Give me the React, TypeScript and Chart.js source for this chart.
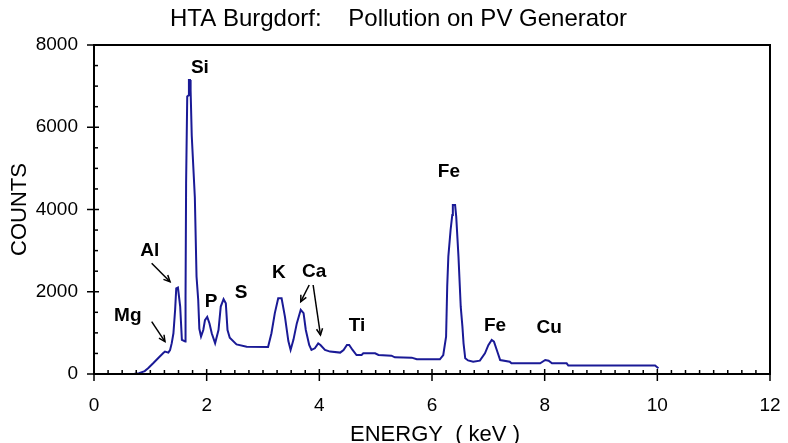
import React, { useEffect, useRef } from "react";
import { Chart, registerables } from "chart.js";

Chart.register(...registerables);

// ---- Data ----
const energyKeV = [
  0.7, 0.8, 0.9, 0.96, 1.05, 1.15, 1.23, 1.26, 1.32, 1.35, 1.38, 1.41, 1.44, 1.46, 1.49, 1.53, 1.56,
  1.62, 1.625, 1.635, 1.655, 1.68, 1.685, 1.705, 1.715, 1.735, 1.79, 1.82, 1.85, 1.87, 1.9, 1.94, 1.97,
  2.01, 2.05, 2.09, 2.15, 2.21, 2.25, 2.3, 2.34, 2.37, 2.41, 2.53, 2.71, 3.09, 3.15, 3.21, 3.27, 3.33,
  3.39, 3.45, 3.49, 3.54, 3.6, 3.67, 3.72, 3.76, 3.82, 3.86, 3.92, 3.98, 4.02, 4.1, 4.19, 4.37, 4.43,
  4.49, 4.53, 4.59, 4.66, 4.75, 4.78, 4.99, 5.05, 5.28, 5.34, 5.64, 5.73, 6.14, 6.2, 6.25, 6.27, 6.29,
  6.33, 6.36, 6.37, 6.41, 6.43, 6.47, 6.51, 6.54, 6.56, 6.59, 6.64, 6.73, 6.85, 6.94, 7.0, 7.06, 7.1,
  7.15, 7.21, 7.38, 7.41, 7.92, 8.01, 8.07, 8.13, 8.39, 8.42, 9.96, 10.02,
];
const counts = [
  0, 20, 70, 140, 260, 400, 510, 545, 520, 580, 750, 990, 1560, 2080, 2100, 1640, 830,
  790, 1900, 4640, 6750, 6780, 7150, 7150, 6900, 5800, 4300, 2370, 1800, 1100, 910, 1070, 1310,
  1390, 1230, 990, 750, 1070, 1640, 1820, 1720, 1070, 880, 720, 665, 655, 990, 1480, 1840, 1840,
  1390, 800, 585, 830, 1230, 1560, 1480, 1070, 705, 585, 625, 745, 705, 585, 545, 520, 585,
  705, 705, 585, 462, 462, 503, 503, 462, 446, 405, 397, 357, 357, 462, 908, 2124, 2853,
  3502, 3867, 4110, 4110, 3826, 2853, 1637, 1150, 746, 381, 330, 300, 324, 503, 700, 827, 787,
  584, 340, 300, 260, 260, 340, 324, 260, 260, 205, 205, 140,
];

const xMin = 0;
const xMax = 12;
const xMajorStep = 2;
const xMinorStep = 0.25;
const yMin = 0;
const yMax = 8000;
const yMajorStep = 2000;
const yMinorStep = 500;

const titleText = "HTA Burgdorf:    Pollution on PV Generator";
const xAxisTitle = "ENERGY  ( keV )";
const yAxisTitle = "COUNTS";

// Element labels (text, energy, counts)
const peakLabels = ["Si", "Al", "Mg", "P", "S", "K", "Ca", "Ti", "Fe", "Fe", "Cu"];
const peakLabelEnergy = [1.88, 0.99, 0.6, 2.08, 2.61, 3.28, 3.91, 4.67, 6.3, 7.12, 8.08];
const peakLabelCounts = [7442, 2991, 1411, 1751, 1970, 2456, 2481, 1167, 4913, 1167, 1119];

// Arrows (from -> to, in data coordinates)
const arrowFromE = [1.024, 1.024, 3.82, 3.89];
const arrowFromC = [2692, 1272, 2164, 2164];
const arrowToE = [1.35, 1.26, 3.67, 4.02];
const arrowToC = [2245, 786, 1758, 948];

const FONT = "'Liberation Sans', Arial, Helvetica, sans-serif";
const LINE_COLOR = "#1a1a96";

const decorPlugin = {
  id: "decor",
  afterDatasetsDraw(chart: any) {
    const { ctx, chartArea: a, scales } = chart;
    const x = scales.x;
    const y = scales.y;
    ctx.save();
    // frame
    ctx.strokeStyle = "#000";
    ctx.lineWidth = 2;
    ctx.strokeRect(a.left, a.top, a.right - a.left, a.bottom - a.top);

    // x ticks
    ctx.lineWidth = 1.5;
    const nx = Math.round((xMax - xMin) / xMinorStep);
    const perMajorX = Math.round(xMajorStep / xMinorStep);
    for (let i = 0; i <= nx; i++) {
      const v = xMin + i * xMinorStep;
      const px = x.getPixelForValue(v);
      const major = i % perMajorX === 0;
      ctx.beginPath();
      ctx.moveTo(px, a.bottom - (major ? 5 : 4));
      ctx.lineTo(px, a.bottom + (major ? 7 : 0));
      ctx.stroke();
    }
    // y ticks
    const ny = Math.round((yMax - yMin) / yMinorStep);
    const perMajorY = Math.round(yMajorStep / yMinorStep);
    for (let i = 0; i <= ny; i++) {
      const v = yMin + i * yMinorStep;
      const py = y.getPixelForValue(v);
      const major = i % perMajorY === 0;
      ctx.beginPath();
      ctx.moveTo(a.left - (major ? 7 : 0), py);
      ctx.lineTo(a.left + (major ? 5 : 4), py);
      ctx.stroke();
    }

    // arrows
    ctx.strokeStyle = "#000";
    ctx.lineWidth = 1.5;
    for (let i = 0; i < arrowFromE.length; i++) {
      const x1 = x.getPixelForValue(arrowFromE[i]);
      const y1 = y.getPixelForValue(arrowFromC[i]);
      const x2 = x.getPixelForValue(arrowToE[i]);
      const y2 = y.getPixelForValue(arrowToC[i]);
      ctx.beginPath();
      ctx.moveTo(x1, y1);
      ctx.lineTo(x2, y2);
      ctx.stroke();
      const ang = Math.atan2(y2 - y1, x2 - x1);
      const hl = 7;
      ctx.beginPath();
      ctx.moveTo(x2 - hl * Math.cos(ang - 0.45), y2 - hl * Math.sin(ang - 0.45));
      ctx.lineTo(x2, y2);
      ctx.lineTo(x2 - hl * Math.cos(ang + 0.45), y2 - hl * Math.sin(ang + 0.45));
      ctx.stroke();
    }

    // peak labels
    ctx.fillStyle = "#000";
    ctx.font = `bold 19px ${FONT}`;
    ctx.textAlign = "center";
    ctx.textBaseline = "middle";
    for (let i = 0; i < peakLabels.length; i++) {
      ctx.fillText(
        peakLabels[i],
        x.getPixelForValue(peakLabelEnergy[i]),
        y.getPixelForValue(peakLabelCounts[i])
      );
    }
    ctx.restore();
  },
  afterDraw(chart: any) {
    const { ctx, chartArea: a } = chart;
    ctx.save();
    ctx.fillStyle = "#000";
    // title
    ctx.font = `24px ${FONT}`;
    ctx.textAlign = "left";
    ctx.textBaseline = "alphabetic";
    ctx.fillText(titleText, 170, 26);
    // x axis title
    ctx.textAlign = "center";
    ctx.font = `22px ${FONT}`;
    ctx.fillText(xAxisTitle, (a.left + a.right) / 2 + 3, 441);
    // y axis title
    ctx.translate(26, (a.top + a.bottom) / 2);
    ctx.rotate(-Math.PI / 2);
    ctx.fillText(yAxisTitle, 0, 0);
    ctx.restore();
  },
};

export default function App() {
  const canvasRef = useRef<HTMLCanvasElement | null>(null);

  useEffect(() => {
    const canvas = canvasRef.current;
    if (!canvas) return;
    const points = energyKeV.map((e, i) => ({ x: e, y: counts[i] }));
    const chart = new Chart(canvas, {
      type: "line",
      data: {
        datasets: [
          {
            data: points,
            borderColor: LINE_COLOR,
            borderWidth: 2,
            pointRadius: 0,
            tension: 0,
            fill: false,
          },
        ],
      },
      options: {
        animation: false,
        responsive: false,
        devicePixelRatio: 1,
        layout: { padding: { top: 45, right: 18, left: 0, bottom: 0 } },
        plugins: {
          legend: { display: false },
          title: { display: false },
          tooltip: { enabled: false },
        },
        scales: {
          x: {
            type: "linear",
            min: xMin,
            max: xMax,
            grid: { display: false, drawTicks: false },
            border: { display: false },
            ticks: {
              stepSize: xMajorStep,
              color: "#000",
              font: { family: FONT, size: 19 },
              padding: 20,
              maxRotation: 0,
              callback: (v: any) => String(v),
            },
            afterFit: (s: any) => {
              s.height = 69;
              s.paddingLeft = 0;
              s.paddingRight = 0;
            },
          },
          y: {
            type: "linear",
            min: yMin,
            max: yMax,
            grid: { display: false, drawTicks: false },
            border: { display: false },
            ticks: {
              stepSize: yMajorStep,
              color: "#000",
              font: { family: FONT, size: 19 },
              padding: 16,
              callback: (v: any) => String(v),
            },
            afterFit: (s: any) => {
              s.width = 94;
              s.paddingTop = 0;
              s.paddingBottom = 0;
            },
          },
        },
      },
      plugins: [decorPlugin],
    });
    return () => chart.destroy();
  }, []);

  return (
    <div style={{ position: "fixed", left: 0, top: 0, width: 788, height: 443, background: "#fff" }}>
      <canvas ref={canvasRef} width={788} height={443} style={{ width: 788, height: 443 }} />
    </div>
  );
}
